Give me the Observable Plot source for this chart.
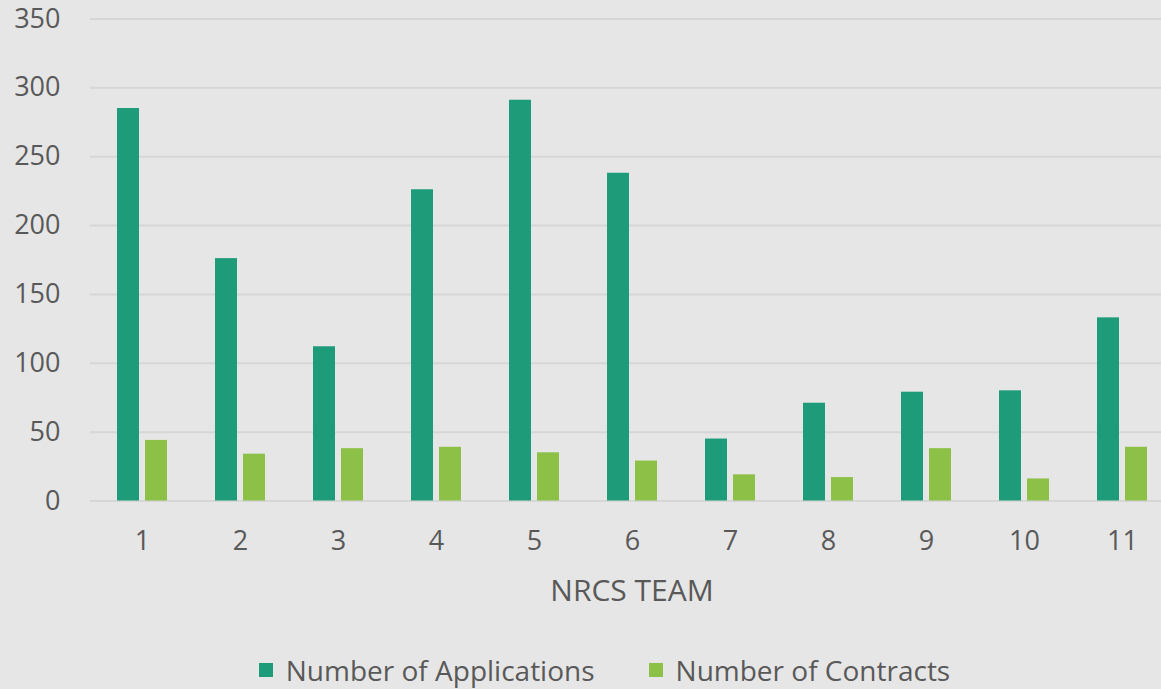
<!DOCTYPE html>
<html>
<head>
<meta charset="utf-8">
<script src="https://cdn.jsdelivr.net/npm/d3@7"></script>
<script src="https://cdn.jsdelivr.net/npm/@observablehq/plot@0.6"></script>
<style>
  html, body { margin: 0; padding: 0; background: #e6e6e6; }
  body { width: 1161px; height: 689px; overflow: hidden; font-family: "Open Sans", sans-serif; color: #595959; }
  #legend { position: absolute; top: 650px; left: 24px; width: 1161px; display: flex; justify-content: center; gap: 54px; font-size: 28px; line-height: 40px; }
  .item { display: flex; align-items: center; gap: 13px; }
  .sw { width: 14px; height: 14px; display: inline-block; }
</style>
</head>
<body>
<div id="chart"></div>
<div id="legend"></div>
<script>
const teams = ["1","2","3","4","5","6","7","8","9","10","11"];
const applications = [285, 176, 112, 226, 291, 238, 45, 71, 79, 80, 133];
const contracts = [44, 34, 38, 39, 35, 29, 19, 17, 38, 16, 39];
const seriesNames = ["Number of Applications", "Number of Contracts"];
const seriesColors = ["#1e9c7a", "#8cc046"];
const yTicks = [0, 50, 100, 150, 200, 250, 300, 350];

const appData = teams.map((t, i) => ({team: t, value: applications[i]}));
const conData = teams.map((t, i) => ({team: t, value: contracts[i]}));

const plot = Plot.plot({
  width: 1161,
  height: 630,
  marginLeft: 90,
  marginRight: 0,
  marginTop: 18,
  marginBottom: 130,
  style: {background: "#e6e6e6", fontFamily: "Open Sans, sans-serif", fontSize: "27px", color: "#595959"},
  x: {domain: teams, range: [90, 1173], padding: 0, label: null},
  y: {domain: [0, 350], range: [500.5, 18.5], label: null},
  marks: [
    Plot.ruleY(yTicks, {stroke: "#d6d6d6", strokeWidth: 2}),
    Plot.barY(appData, {x: "team", y: "value", fill: seriesColors[0], insetLeft: 38, insetRight: 38, dx: -14}),
    Plot.barY(conData, {x: "team", y: "value", fill: seriesColors[1], insetLeft: 38, insetRight: 38, dx: 14}),
    Plot.axisY(yTicks, {tickSize: 0, tickPadding: 30, fontSize: 27, fill: "#595959", label: null}),
    Plot.axisX({tickSize: 0, tickPadding: 30, fontSize: 27, fill: "#595959", label: null}),
    Plot.text(["NRCS TEAM"], {frameAnchor: "bottom", lineAnchor: "middle", dx: 6, dy: 91, fontSize: 30, fill: "#595959", text: d => d})
  ]
});
document.getElementById("chart").appendChild(plot);

const legend = document.getElementById("legend");
seriesNames.forEach((name, i) => {
  const item = document.createElement("div");
  item.className = "item";
  const sw = document.createElement("span");
  sw.className = "sw";
  sw.style.background = seriesColors[i];
  const lab = document.createElement("span");
  lab.textContent = name;
  item.appendChild(sw);
  item.appendChild(lab);
  legend.appendChild(item);
});
</script>
</body>
</html>
